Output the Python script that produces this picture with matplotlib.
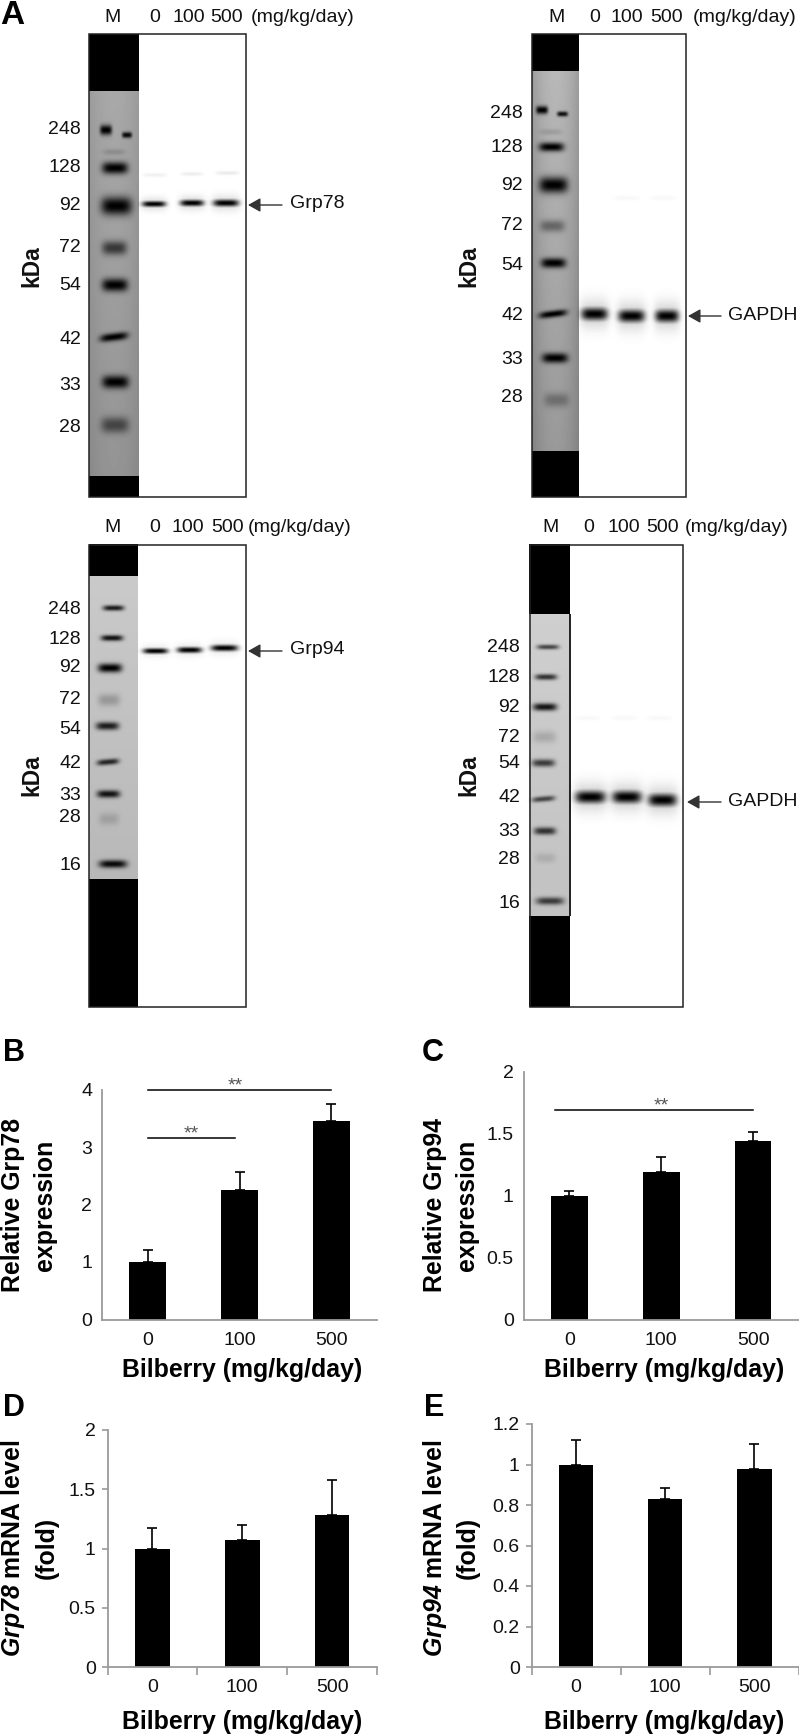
import numpy as np
import matplotlib
matplotlib.use('Agg')
import matplotlib.pyplot as plt
from matplotlib.patches import Rectangle

plt.rcParams['font.family'] = ['Liberation Sans', 'DejaVu Sans']
plt.rcParams['mathtext.fontset'] = 'custom'
plt.rcParams['mathtext.bfit'] = 'Liberation Sans:italic:bold'
plt.rcParams['mathtext.bf'] = 'Liberation Sans:bold'

W, H = 799, 1736

# ================== bar data ==================
doses = ['0', '100', '500']

grp78_prot = [1.0, 2.26, 3.45]
grp78_prot_top = [1.21, 2.57, 3.75]
grp94_prot = [1.0, 1.19, 1.44]
grp94_prot_top = [1.04, 1.31, 1.51]
grp78_mrna = [1.0, 1.07, 1.28]
grp78_mrna_top = [1.17, 1.2, 1.58]
grp94_mrna = [1.0, 0.83, 0.98]
grp94_mrna_top = [1.12, 0.885, 1.1]

# ================== blot data (pixels) ==================
# marker bands: y, x0, x1, half thickness, darkness, slope
bands_a1 = [(130, 100, 112, 5, 1, 0), (135, 122, 132, 3, .95, 0), (152, 103, 125, 3, .15, 0), (168, 102, 128, 6, 1, 0),
            (206, 101, 132, 9, 1, 0), (248, 102, 127, 7, .65, 0), (285, 102, 128, 6.5, 1, 0),
            (337, 100, 128, 4, 1, -.12), (382, 102, 129, 6.5, 1, 0), (425, 101, 129, 8, .55, 0)]
bands_a2 = [(110, 536, 548, 4, 1, 0), (114, 557, 568, 2.6, .9, 0), (132, 540, 562, 3, .12, 0), (147, 539, 564, 4.5, 1, 0),
            (185, 539, 568, 8, 1, 0), (226, 540, 565, 6, .4, 0), (263, 541, 566, 5, 1, 0),
            (314, 539, 567, 3.5, 1, -.12), (358, 542, 568, 5, 1, 0), (400, 544, 569, 7, .3, 0)]
bands_a3 = [(608, 103, 124, 2.8, .85, 0), (638, 101, 123, 3, .9, 0), (668, 98, 122, 4.5, 1, 0),
            (700, 98, 120, 6, .22, 0), (726, 96, 119, 4, .85, 0), (762, 97, 119, 3, .8, -.08),
            (794, 97, 120, 3.8, .9, 0), (819, 99, 119, 6, .15, 0), (864, 99, 127, 4, .95, 0)]
bands_a4 = [(647, 537, 559, 2.5, .65, 0), (677, 535, 557, 3, .75, 0), (707, 533, 557, 3.8, .9, 0),
            (737, 533, 556, 6, .16, 0), (763, 532, 555, 3.8, .7, 0), (799, 532, 555, 2.8, .65, -.08),
            (831, 534, 556, 3.8, .75, 0), (858, 535, 556, 5, .12, 0), (901, 536, 564, 3.8, .7, 0)]

samples_a1 = [(204, 142, 166, 3, 1, 0), (203, 180, 204, 3.3, 1, 0), (203, 213, 239, 3.6, 1, 0),
              (175, 143, 167, 2, .06, 0), (174, 181, 203, 2, .07, 0), (173, 216, 239, 2, .08, 0)]
samples_a2 = [(314, 581, 608, 6.5, 1, 0), (316, 618, 645, 6.5, 1, 0), (316, 655, 679, 6.5, 1, 0),
              (198, 613, 640, 2.5, .03, 0), (198, 650, 677, 2.5, .03, 0)]
samples_a3 = [(651, 143, 168, 2.8, 1, 0), (650, 177, 202, 3, 1, 0), (648, 211, 238, 3.2, 1, 0)]
samples_a4 = [(797, 575, 606, 6.5, 1, 0), (797, 612, 642, 6.5, 1, 0), (800, 648, 677, 6.5, 1, 0),
              (718, 575, 600, 2.5, .03, 0), (718, 612, 637, 2.5, .03, 0), (718, 646, 672, 2.5, .03, 0)]

kda_a1 = ['248', '128', '92', '72', '54', '42', '33', '28']
kda_a1_y = [130, 167, 206, 248, 286, 339, 385, 427]
kda_a2_y = [113, 147, 186, 226, 265, 315, 360, 397]
kda_a3 = ['248', '128', '92', '72', '54', '42', '33', '28', '16']
kda_a3_y = [609, 639, 668, 699, 729, 764, 795, 817, 866]
kda_a4_y = [647, 677, 707, 737, 763, 798, 831, 860, 903]

# ================== blot image ==================
canvas = np.ones((H, W))
Y, X = np.mgrid[0:H, 0:W]


def add_bands(bands, glow=0.0):
    global canvas
    for yc, x0, x1, th, dark, slope in bands:
        xm = (x0 + x1) / 2
        hw = (x1 - x0) / 2
        dy = (Y + 0.5 - yc - slope * (X + 0.5 - xm)) / th
        dx = (X + 0.5 - xm) / hw
        m = np.exp(-np.abs(dy) ** 2.2) * np.exp(-np.abs(dx) ** 4)
        if glow > 0:
            m = np.maximum(m, glow * np.exp(-(dy / 2.2) ** 2) * np.exp(-np.abs(dx / 1.1) ** 4))
        canvas = canvas * (1 - dark * np.clip(m, 0, 1))


def add_lane(x0, x1, y0, y1, top_end, bot_start, base_top, base_bot, edge=0.0):
    canvas[int(y0):int(top_end), int(x0):int(x1)] = 0
    canvas[int(bot_start):int(y1), int(x0):int(x1)] = 0
    rows = np.arange(int(top_end), int(bot_start))
    u = np.linspace(-1, 1, int(x1) - int(x0))
    col = base_top + (base_bot - base_top) * (rows - rows[0]) / len(rows)
    canvas[rows, int(x0):int(x1)] = col[:, None] * (1 - edge * u[None, :] ** 2)


add_lane(89, 139, 34, 497, 91, 476, .66, .58, .08)
add_lane(532, 579, 34, 497, 71, 451, .72, .6, .15)
add_lane(89, 138, 544, 1007, 576, 879, .79, .72)
add_lane(529, 570, 544, 1007, 614, 916, .81, .76)
canvas[614:916, 569:571] = 0.15
add_bands(bands_a1)
add_bands(bands_a2)
add_bands(bands_a3)
add_bands(bands_a4)
add_bands(samples_a1, glow=.15)
add_bands(samples_a2, glow=.2)
add_bands(samples_a3, glow=.1)
add_bands(samples_a4, glow=.2)

fig = plt.figure(figsize=(W / 100, H / 100), dpi=100)
bg = fig.add_axes([0, 0, 1, 1], zorder=0)
bg.imshow(canvas, cmap='gray', vmin=0, vmax=1, extent=(0, W, H, 0), aspect='auto', interpolation='nearest')
bg.set_xlim(0, W)
bg.set_ylim(H, 0)
bg.axis('off')

for x0, x1, y0, y1 in [(89, 246, 34, 497), (532, 686, 34, 497), (89, 245.5, 544.5, 1007), (529.5, 683, 544.5, 1007)]:
    bg.add_patch(Rectangle((x0, y0), x1 - x0, y1 - y0, fill=False, ec='#222222', lw=1.1))


def txt(x, y, s, size=14, ha='center', weight='normal', rot=0, color='#111111'):
    bg.text(x, y, s, fontsize=size, ha=ha, va='center', fontweight=weight, rotation=rot, color=color)


# header and labels of each blot
headers = [(113, 155, 189, 227, 251, 17), (556, 595, 627, 667, 693, 17),
           (113, 155, 187.5, 228, 248, 527), (550, 589, 624, 663, 685, 527)]
for xm, x0, x1, x2, xu, y in headers:
    txt(xm, y, 'M')
    txt(x0, y, doses[0])
    txt(x1, y, doses[1])
    txt(x2, y, doses[2])
    txt(xu, y, '(mg/kg/day)', ha='left')

for labels, ys, xr in [(kda_a1, kda_a1_y, 81), (kda_a1, kda_a2_y, 523), (kda_a3, kda_a3_y, 81), (kda_a3, kda_a4_y, 520)]:
    for s, y in zip(labels, ys):
        txt(xr, y, s, ha='right')

for x, y in [(32, 266), (469, 266), (32, 775), (469, 775)]:
    txt(x, y, 'kDa', size=16.4, weight='bold', rot=90)

for name, x_tip, x_tail, x_text, y in [('Grp78', 248, 282, 290, 205), ('GAPDH', 688, 721, 728, 316),
                                       ('Grp94', 248, 282, 290, 651), ('GAPDH', 687, 721, 728, 802)]:
    bg.annotate('', xy=(x_tip, y), xytext=(x_tail, y),
                arrowprops=dict(arrowstyle='-|>,head_length=0.75,head_width=0.42', color='#333333', lw=1, shrinkA=0, shrinkB=0))
    txt(x_text, y - 1, name, ha='left')

txt(12, 15, 'A', size=24, weight='bold', color='black')
txt(14, 1053, 'B', size=22, weight='bold', color='black')
txt(433, 1053, 'C', size=22, weight='bold', color='black')
txt(14, 1408, 'D', size=22, weight='bold', color='black')
txt(434, 1408, 'E', size=22, weight='bold', color='black')


# ================== bar panels ==================
def bar_panel(box, vals, tops, ymax, yticks, ylabels, xticks_on, bar_w):
    left, right, y_top, y_bot = box
    ax = fig.add_axes([left / W, 1 - y_bot / H, (right - left) / W, (y_bot - y_top) / H], zorder=2)
    ax.patch.set_visible(False)
    xs = np.arange(len(doses))
    err = np.array(tops) - np.array(vals)
    ax.bar(xs, vals, width=bar_w, color='black',
           yerr=[np.zeros(len(vals)), err], error_kw=dict(ecolor='black', elinewidth=1.2, capsize=3.6, capthick=1.2))
    ax.set_xlim(-0.5, 2.5)
    ax.set_ylim(0, ymax)
    for s in ['top', 'right']:
        ax.spines[s].set_visible(False)
    for s in ['left', 'bottom']:
        ax.spines[s].set_color('#9a9a9a')
        ax.spines[s].set_linewidth(1.3)
    ax.set_yticks(yticks)
    ax.set_yticklabels(ylabels, fontsize=14)
    ax.set_xticks(xs)
    ax.set_xticklabels(doses, fontsize=14)
    ax.tick_params(axis='y', length=4.5 if xticks_on else 0, color='#9a9a9a', width=1.2, pad=4 if xticks_on else 7, labelcolor='#111111')
    ax.tick_params(axis='x', length=0, pad=9, labelcolor='#111111')
    if xticks_on:
        ax.set_xticks([-0.5, 0.5, 1.5, 2.5], minor=True)
        ax.tick_params(axis='x', which='minor', length=5.5, width=1.2, color='#9a9a9a')
    return ax


ax_b = bar_panel((102, 377, 1089.5, 1319.5), grp78_prot, grp78_prot_top, 4, [0, 1, 2, 3, 4],
                 ['0', '1', '2', '3', '4'], False, 0.4)
ax_c = bar_panel((523.5, 799, 1071.5, 1319.5), grp94_prot, grp94_prot_top, 2, [0, .5, 1, 1.5, 2],
                 ['0', '0.5', '1', '1.5', '2'], False, 0.4)
ax_d = bar_panel((107.5, 377, 1430, 1667), grp78_mrna, grp78_mrna_top, 2, [0, .5, 1, 1.5, 2],
                 ['0', '0.5', '1', '1.5', '2'], True, 0.385)
ax_e = bar_panel((531.5, 799, 1424, 1667), grp94_mrna, grp94_mrna_top, 1.2, [0, .2, .4, .6, .8, 1, 1.2],
                 ['0', '0.2', '0.4', '0.6', '0.8', '1', '1.2'], True, 0.385)

# significance lines
sig_b = [(0, 2.0, 4.0, 0.95, 4.06), (0, 0.95, 3.15, 0.47, 3.22)]
sig_c = [(-0.16, 2.0, 1.69, 1.0, 1.725)]
for ax, sigs in [(ax_b, sig_b), (ax_c, sig_c)]:
    for x0, x1, y, xs, ys in sigs:
        ax.plot([x0, x1], [y, y], color='black', lw=1.1, clip_on=False)
        ax.text(xs, ys, '**', fontsize=14, ha='center', va='center', color='#555555', clip_on=False)

# axis titles
txt(242, 1370, 'Bilberry (mg/kg/day)', size=17.9, weight='bold', color='black')
txt(664, 1370, 'Bilberry (mg/kg/day)', size=17.9, weight='bold', color='black')
txt(242, 1722, 'Bilberry (mg/kg/day)', size=17.9, weight='bold', color='black')
txt(664, 1722, 'Bilberry (mg/kg/day)', size=17.9, weight='bold', color='black')

txt(13, 1205, 'Relative Grp78', size=17.9, weight='bold', rot=90, color='black')
txt(45, 1205, 'expression', size=17.9, weight='bold', rot=90, color='black')
txt(435, 1205, 'Relative Grp94', size=17.9, weight='bold', rot=90, color='black')
txt(467, 1205, 'expression', size=17.9, weight='bold', rot=90, color='black')
txt(13, 1548, r'$\mathbfit{Grp78}$ mRNA level', size=17.9, weight='bold', rot=90, color='black')
txt(47, 1548, '(fold)', size=17.9, weight='bold', rot=90, color='black')
txt(435, 1548, r'$\mathbfit{Grp94}$ mRNA level', size=17.9, weight='bold', rot=90, color='black')
txt(468, 1548, '(fold)', size=17.9, weight='bold', rot=90, color='black')

plt.savefig('out.png', dpi=100)
